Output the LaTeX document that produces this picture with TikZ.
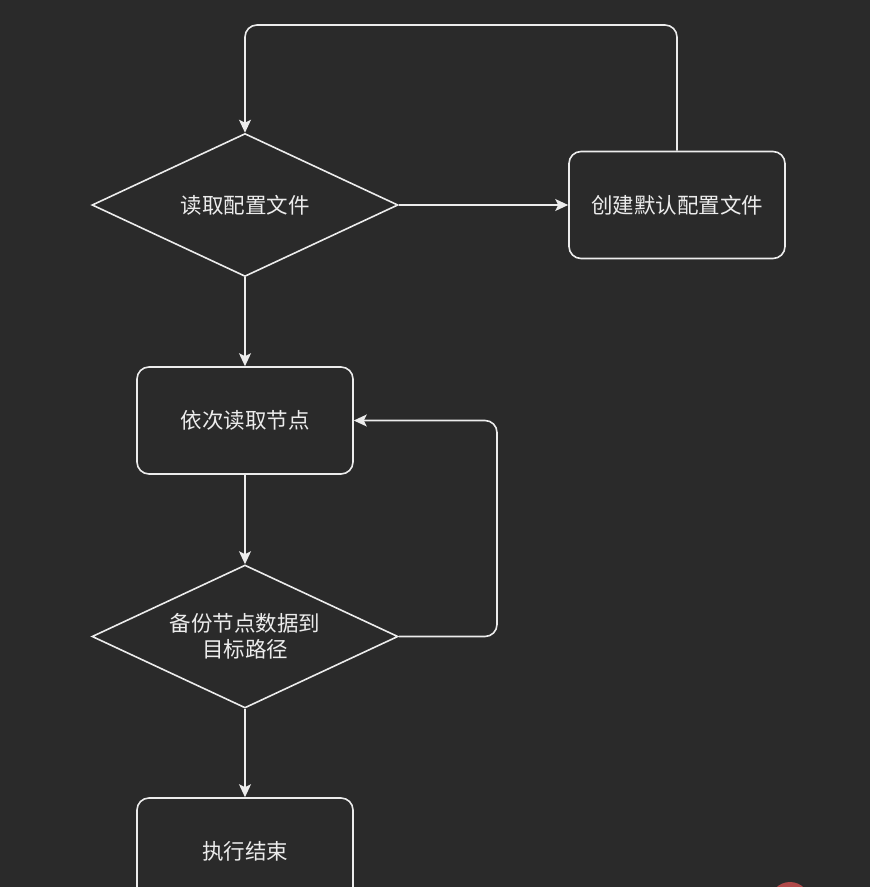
\documentclass[tikz,border=0pt]{standalone}
\usepackage{fontspec}
\newfontfamily\cjk{Noto Sans CJK SC}
\usetikzlibrary{shapes.geometric,arrows.meta}
\definecolor{bg}{HTML}{2A2A2A}
\definecolor{ln}{HTML}{ECECEC}
\definecolor{wm}{HTML}{B04848}
\begin{document}
\begin{tikzpicture}[x=1pt,y=-1pt,
  every node/.style={font=\cjk\fontsize{21.5}{26}\selectfont, text=ln, align=center},
  proc/.style={draw=ln, line width=1.6pt, rounded corners=12pt, minimum width=216pt, minimum height=107pt, inner sep=0pt},
  decide/.style={draw=ln, line width=1.6pt, diamond, aspect=2.14, minimum width=306pt, minimum height=143pt, inner sep=0pt},
  conn/.style={draw=ln, line width=1.6pt, rounded corners=12pt, -{Stealth[length=13pt,width=12pt,inset=3pt]}}]
\useasboundingbox (0,0) rectangle (870,887);
\fill[bg] (0,0) rectangle (870,887);
\begin{scope}
\clip (0,0) rectangle (870,887);
\node[decide] (d1) at (245,205) {读取配置文件};
\node[proc] (r1) at (677,205) {创建默认配置文件};
\node[proc] (r2) at (245,420.5) {依次读取节点};
\node[decide] (d2) at (245,636.5) {备份节点数据到\\目标路径};
\node[proc] (r3) at (245,851.5) {执行结束};
\coordinate (t1) at (677,25);
\coordinate (t2) at (245,25);
\coordinate (q1) at (497,636.5);
\coordinate (q2) at (497,420.5);
\path[conn] (r1.north) -- (t1) -- (t2) -- (d1.north);
\path[conn] (d1.east) -- (r1.west);
\path[conn] (d1.south) -- (r2.north);
\path[conn] (r2.south) -- (d2.north);
\path[conn] (d2.east) -- (q1) -- (q2) -- (r2.east);
\path[conn] (d2.south) -- (r3.north);
\fill[wm] (790,902) circle (20);
\end{scope}
\end{tikzpicture}
\end{document}
